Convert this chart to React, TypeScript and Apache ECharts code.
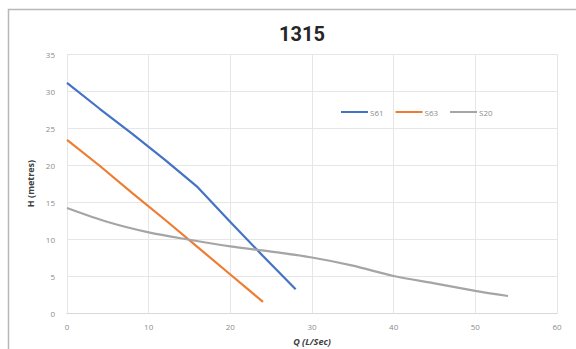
import React, { useEffect, useRef } from "react";
import * as echarts from "echarts";

const title = "1315";
const xName = "Q (L/Sec)";
const yName = "H (metres)";
const seriesNames = ["S61", "S63", "S20"];
const s61Q = [0, 4, 8, 12, 16, 20, 24, 28];
const s61H = [31.1, 27.6, 24.2, 20.7, 17.0, 12.3, 7.7, 3.2];
const s63Q = [0, 4, 8, 12, 16, 20, 24];
const s63H = [23.4, 19.9, 16.2, 12.6, 8.9, 5.2, 1.5];
const s20Q = [0, 5, 10, 15, 20, 25, 30, 35, 40, 45, 50, 54];
const s20H = [14.2, 12.3, 10.9, 9.9, 9.0, 8.3, 7.5, 6.4, 5.0, 4.0, 3.0, 2.3];
const colors = ["#4472C4", "#ED7D31", "#A5A5A5"];

const zip = (q: number[], h: number[]) => q.map((v, i) => [v, h[i]]);

export default function App() {
  const ref = useRef<HTMLDivElement>(null);
  useEffect(() => {
    if (!ref.current) return;
    const chart = echarts.init(ref.current, undefined, { renderer: "svg" });
    const font = "'Open Sans', 'Noto Sans', sans-serif";
    chart.setOption({
      animation: false,
      backgroundColor: "#ffffff",
      color: colors,
      title: {
        text: title,
        left: 297,
        textAlign: "center",
        top: 19,
        textStyle: { fontSize: 20, fontWeight: "bold", color: "#262626", fontFamily: "Roboto, sans-serif" },
      },
      legend: {
        left: 336,
        top: 103,
        itemWidth: 27,
        itemHeight: 2,
        itemGap: 12,
        icon: "rect",
        textStyle: { fontSize: 8, color: "#8c8c8c", fontFamily: font, padding: [0, 0, 0, -3] },
        data: seriesNames,
      },
      graphic: [
        {
          type: "rect",
          shape: { x: 8.5, y: 9.5, width: 620, height: 400 },
          style: { fill: "none", stroke: "#b8b8b8", lineWidth: 1.5 },
          silent: true,
        },
      ],
      grid: { left: 67, right: 19, top: 54, bottom: 36, containLabel: false, outerBoundsMode: "none" },
      xAxis: {
        type: "value",
        min: 0,
        max: 60,
        interval: 10,
        name: xName,
        nameLocation: "middle",
        nameGap: 24,
        nameTextStyle: { fontSize: 9, fontWeight: "bold", fontStyle: "italic", color: "#404040", fontFamily: font },
        axisLine: { show: true, lineStyle: { color: "#d9d9d9" } },
        axisTick: { show: false },
        axisLabel: { fontSize: 8, color: "#8c8c8c", margin: 9, fontFamily: font },
        splitLine: { show: true, lineStyle: { color: "#e6e6e6" } },
      },
      yAxis: {
        type: "value",
        min: 0,
        max: 35,
        interval: 5,
        name: yName,
        nameLocation: "middle",
        nameGap: 32,
        nameRotate: 90,
        nameTextStyle: { fontSize: 9, fontWeight: "bold", color: "#404040", fontFamily: font },
        axisLine: { show: false },
        axisTick: { show: false },
        axisLabel: { fontSize: 8, color: "#8c8c8c", margin: 12, fontFamily: font },
        splitLine: { show: true, lineStyle: { color: "#e6e6e6" } },
      },
      series: [
        { name: seriesNames[0], type: "line", data: zip(s61Q, s61H), showSymbol: false, lineStyle: { width: 2.2 } },
        { name: seriesNames[1], type: "line", data: zip(s63Q, s63H), showSymbol: false, lineStyle: { width: 2.2 } },
        { name: seriesNames[2], type: "line", data: zip(s20Q, s20H), showSymbol: false, smooth: 0.3, lineStyle: { width: 2.2 } },
      ],
    });
    return () => chart.dispose();
  }, []);
  return (
    <div
      ref={ref}
      style={{ position: "absolute", left: 0, top: 0, width: 576, height: 349 }}
    />
  );
}
